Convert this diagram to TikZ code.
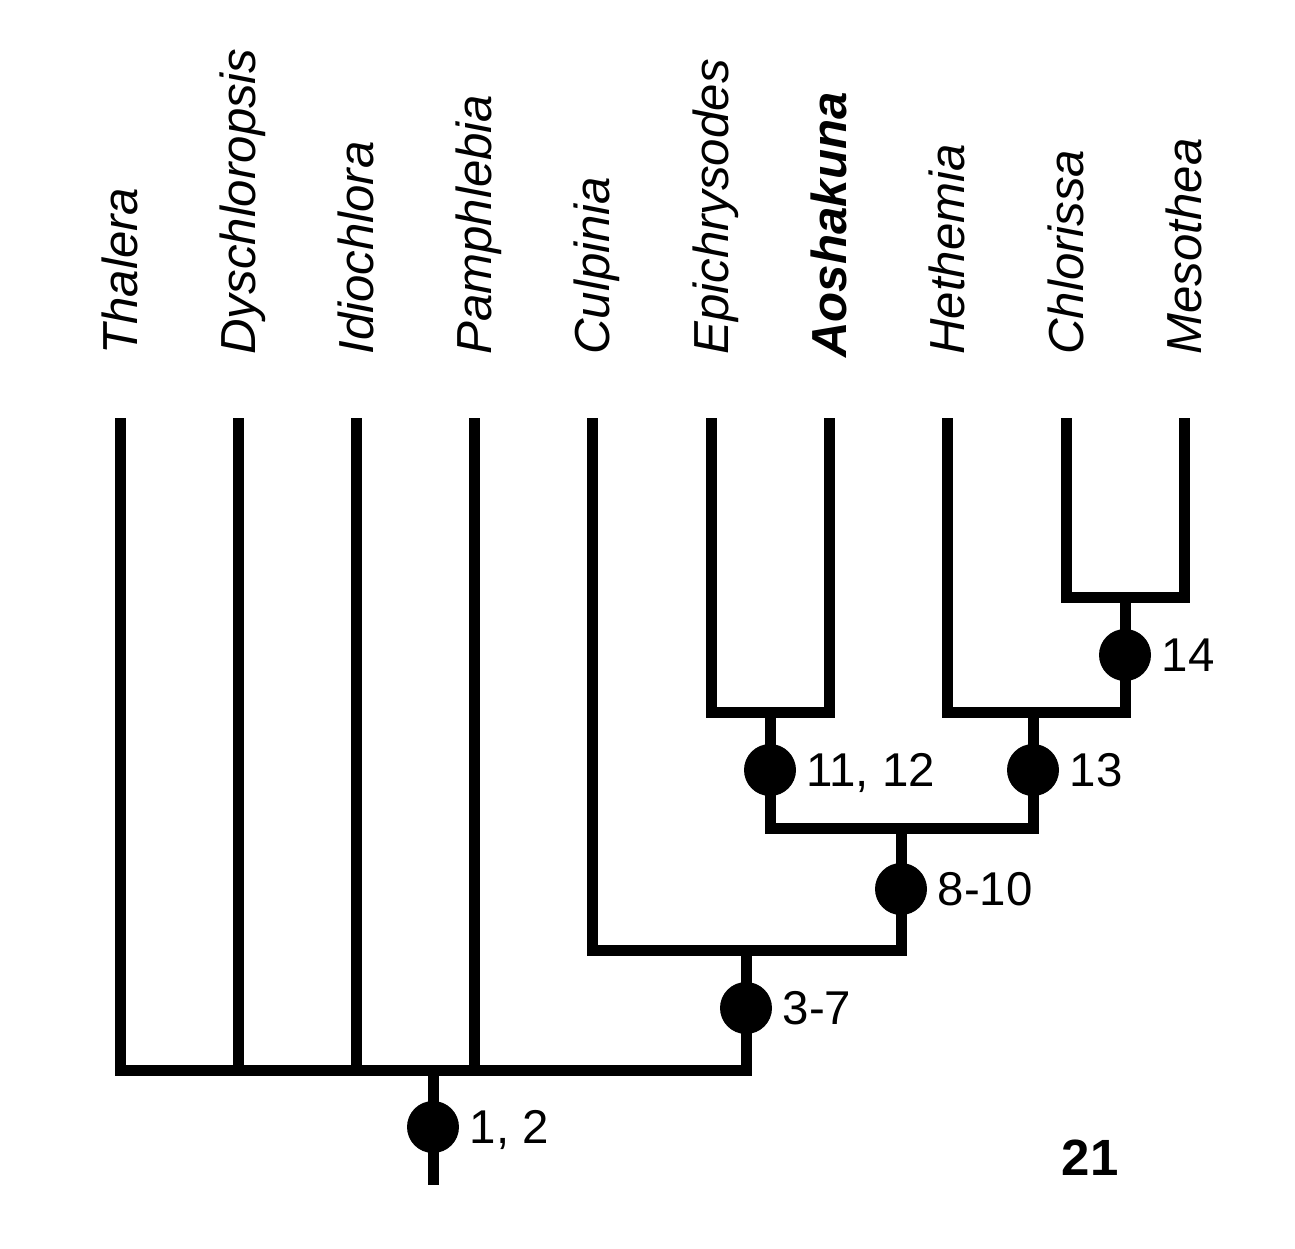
\documentclass[tikz,border=0pt]{standalone}
\usepackage{fontspec}
\setmainfont{Liberation Sans}
\usetikzlibrary{positioning}

\begin{document}
\begin{tikzpicture}[
    x=0.02cm, y=-0.02cm,
    branch/.style={line width=0.22cm, line join=miter},
    dot/.style={circle, fill=black, inner sep=0pt, minimum size=1.04cm},
    num/.style={anchor=west, inner sep=0pt, text height=19pt, text depth=0pt, font=\fontsize{27}{30}\selectfont},
    taxon/.style={rotate=90, anchor=base west, inner sep=0pt, font=\fontsize{28}{32}\selectfont\itshape},
    node distance=0.2cm
]
\useasboundingbox (0,0) rectangle (1295,1248);

\coordinate (thalera) at (120,418);
\coordinate (dyschl) at (238,418);
\coordinate (idioch) at (356,418);
\coordinate (pamphl) at (474,418);
\coordinate (culpin) at (592,418);
\coordinate (epichr) at (711,418);
\coordinate (aoshak) at (829,418);
\coordinate (hethem) at (947,418);
\coordinate (chlori) at (1066,418);
\coordinate (mesoth) at (1184,418);

\node[taxon] (lthalera) at (137,355) {Thalera};
\node[taxon] (ldyschl) at (255,355) {Dyschloropsis};
\node[taxon] (lidioch) at (373,355) {Idiochlora};
\node[taxon] (lpamphl) at (491,355) {Pamphlebia};
\node[taxon] (lculpin) at (609,355) {Culpinia};
\node[taxon] (lepichr) at (728,355) {Epichrysodes};
\node[taxon, font=\fontsize{28}{32}\selectfont\bfseries\itshape] (laoshak) at (846,358) {Aoshakuna};
\node[taxon] (lhethem) at (964,355) {Hethemia};
\node[taxon] (lchlori) at (1083,355) {Chlorissa};
\node[taxon] (lmesoth) at (1201,355) {Mesothea};

\coordinate (root) at (433,1185);
\coordinate (j1) at (433,1070);
\coordinate (j2) at (746,950);
\coordinate (j3) at (901,828);
\coordinate (j4) at (770,712);
\coordinate (j5) at (1033,712);
\coordinate (j6) at (1125,597);

\draw[branch] (thalera) |- (j1) -| (j2);
\draw[branch] (dyschl) -- (dyschl |- j1);
\draw[branch] (idioch) -- (idioch |- j1);
\draw[branch] (pamphl) -- (pamphl |- j1);
\draw[branch] (j1) -- (root);
\draw[branch] (culpin) |- (j2) -| (j3);
\draw[branch] (j4) |- (j3) -| (j5);
\draw[branch] (epichr) |- (j4) -| (aoshak);
\draw[branch] (hethem) |- (j5) -| (j6);
\draw[branch] (chlori) |- (j6) -| (mesoth);

\node[dot] (d1) at (433,1127) {};
\node[dot] (d2) at (746,1008) {};
\node[dot] (d3) at (901,889) {};
\node[dot] (d4) at (770,770) {};
\node[dot] (d5) at (1033,770) {};
\node[dot] (d6) at (1125,655) {};

\node[num, right=of d1] (c1) {1, 2};
\node[num, right=of d2] (c2) {3-7};
\node[num, right=of d3] (c3) {8-10};
\node[num, right=of d4] (c4) {11, 12};
\node[num, right=of d5] (c5) {13};
\node[num, right=of d6] (c6) {14};

\node[anchor=base, inner sep=0pt, font=\fontsize{29}{32}\selectfont\bfseries] (fig) at (1090,1175) {21};
\end{tikzpicture}
\end{document}
